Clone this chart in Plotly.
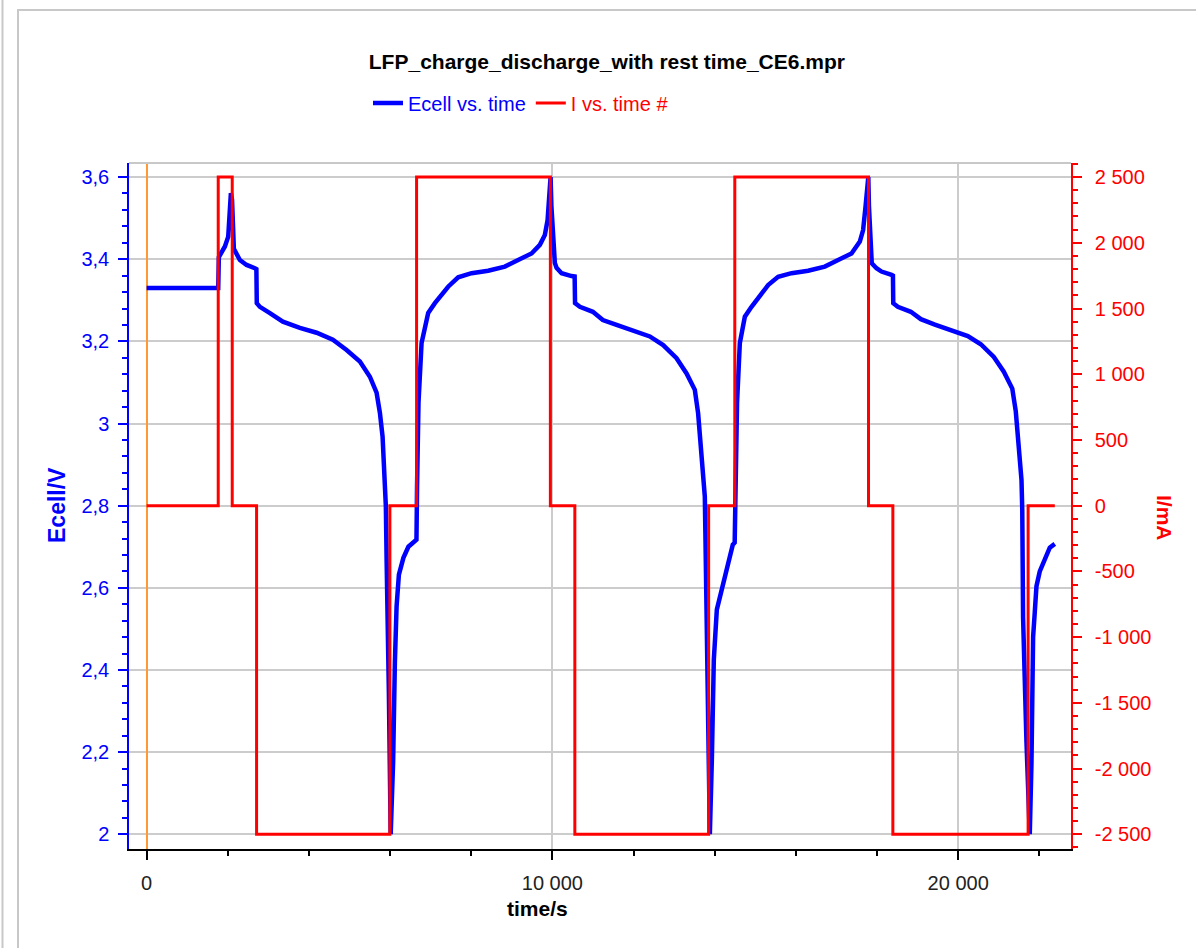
import plotly.graph_objects as go

# Cell potential vs. time (s, V)
time_ecell = [
    0, 1765, 1780, 1929, 2011, 2053, 2077, 2105, 2150, 2299, 2464, 2668, 2705,
    2715, 2792, 3038, 3358, 3777, 4189, 4590, 4928, 5256, 5502, 5667, 5749,
    5815, 5854, 5896, 5914, 5933, 5970, 6015,
    6075, 6118, 6160, 6217, 6328, 6451, 6611, 6650,
    6665, 6700, 6776, 6857, 6939, 7104, 7269, 7431, 7678, 8008, 8417, 8829,
    9156, 9486, 9691, 9814, 9881, 9913, 9955,
    9975, 10030, 10060, 10102, 10226, 10472, 10548,
    10558, 10677, 10997, 11243, 11581, 12074, 12401, 12729, 13059, 13306,
    13510, 13591, 13651, 13715, 13756, 13770, 13793, 13830, 13880,
    13929, 13978, 14052, 14175, 14298, 14446, 14492,
    14510, 14550, 14619, 14742, 14907, 15070, 15316, 15563, 15893, 16302,
    16713, 17041, 17371, 17576, 17657, 17716, 17785,
    17800, 17850, 17870, 17987, 18110, 18357, 18392,
    18400, 18512, 18833, 19080, 19425, 19918, 20237, 20558, 20878, 21124,
    21333, 21419, 21481, 21530, 21560, 21579, 21599, 21683, 21764,
    21806, 21846, 21887, 21929, 22010, 22093, 22175, 22257, 22380,
]
ecell = [
    3.330, 3.330, 3.405, 3.431, 3.455, 3.504, 3.561, 3.545, 3.425, 3.398, 3.386, 3.378, 3.376,
    3.293, 3.284, 3.269, 3.248, 3.233, 3.221, 3.204, 3.179, 3.151, 3.114, 3.075, 3.026,
    2.968, 2.880, 2.798, 2.669, 2.576, 2.345, 2.000,
    2.177, 2.418, 2.555, 2.632, 2.673, 2.700, 2.715, 2.717,
    2.850, 3.050, 3.196, 3.236, 3.269, 3.293, 3.313, 3.333, 3.356, 3.366, 3.372, 3.382,
    3.398, 3.414, 3.435, 3.459, 3.495, 3.552, 3.600,
    3.530, 3.420, 3.391, 3.379, 3.366, 3.359, 3.358,
    3.293, 3.284, 3.272, 3.252, 3.240, 3.223, 3.212, 3.191, 3.159, 3.122,
    3.082, 3.025, 2.960, 2.896, 2.822, 2.734, 2.600, 2.350, 2.000,
    2.180, 2.425, 2.547, 2.596, 2.644, 2.705, 2.710,
    2.850, 3.050, 3.196, 3.260, 3.284, 3.305, 3.337, 3.357, 3.366, 3.372,
    3.382, 3.398, 3.414, 3.443, 3.471, 3.528, 3.600,
    3.530, 3.420, 3.390, 3.378, 3.370, 3.362, 3.360,
    3.293, 3.284, 3.272, 3.254, 3.241, 3.225, 3.213, 3.193, 3.162, 3.126,
    3.085, 3.030, 2.965, 2.900, 2.863, 2.790, 2.528, 2.224, 2.000,
    2.175, 2.480, 2.540, 2.604, 2.640, 2.661, 2.681, 2.698, 2.707,
]

# Applied current steps (s, mA): each value holds until the next time
time_current = [0, 1765, 2110, 2710, 5995, 6653, 9950, 10553, 13850, 14495,
                17790, 18390, 21723, 22381]
current = [0, 2500, 0, -2500, 0, 2500, 0, -2500, 0, 2500, 0, -2500, 0, 0]

# Axis ticks
ecell_ticks = [2.0, 2.2, 2.4, 2.6, 2.8, 3.0, 3.2, 3.4, 3.6]
current_ticks = [-2500, -2000, -1500, -1000, -500, 0, 500, 1000, 1500, 2000, 2500]
time_ticks = [0, 10000, 20000]


def fmt(v, decimals=0):
    s = f"{v:,.{decimals}f}".replace(",", " ").replace(".", ",")
    if decimals:
        s = s.rstrip("0").rstrip(",")
    return s


BLUE = "#0000FF"
RED = "#FF0000"
FONT = "Liberation Sans"

fig = go.Figure()
fig.add_trace(go.Scatter(
    x=time_ecell, y=ecell, mode="lines",
    name=f"<span style='color:{BLUE}'>Ecell vs. time</span>",
    line=dict(color=BLUE, width=4.5), yaxis="y",
))
fig.add_trace(go.Scatter(
    x=time_current, y=current, mode="lines",
    name=f"<span style='color:{RED}'>I vs. time #</span>",
    line=dict(color=RED, width=3, shape="hv"), yaxis="y2",
))

W, H = 1196, 948
L, R, T, B = 129, 125, 163, 99
pw, ph = W - L - R, H - T - B


def px(xp):
    return (xp - L) / pw


def py(yp):
    return (H - B - yp) / ph


fig.update_layout(
    width=W, height=H,
    margin=dict(l=L, r=R, t=T, b=B, pad=0),
    paper_bgcolor="white", plot_bgcolor="white",
    font=dict(family=FONT, size=20, color="#222222"),
    title=dict(
        text="<b>LFP_charge_discharge_with rest time_CE6.mpr</b>",
        x=px(607), xanchor="center", y=1 - 62 / H, yanchor="middle",
        font=dict(family=FONT, size=21, color="#000000"),
    ),
    showlegend=True,
    legend=dict(
        orientation="h", x=px(368), xanchor="left", y=py(103), yanchor="middle",
        font=dict(family=FONT, size=20), itemwidth=30,
        bgcolor="rgba(0,0,0,0)", tracegroupgap=0,
    ),
    xaxis=dict(
        range=[-434, 22780], tickvals=time_ticks,
        ticktext=[fmt(v) for v in time_ticks],
        showline=True, linecolor="#000000", linewidth=2,
        ticks="outside", ticklen=9, tickwidth=2, tickcolor="#000000",
        tickfont=dict(family=FONT, size=20, color="#222222"),
        minor=dict(dtick=2000, tick0=0, ticks="outside", ticklen=5,
                   tickwidth=1.5, tickcolor="#000000", showgrid=False),
        showgrid=True, gridcolor="#CCCCCC", gridwidth=2,
        zeroline=True, zerolinecolor="#FF9933", zerolinewidth=1.5,
        ticklabelstandoff=6,
    ),
    yaxis=dict(
        range=[1.9642, 3.6342], tickvals=ecell_ticks,
        ticktext=[fmt(v, 1) for v in ecell_ticks],
        showline=True, linecolor=BLUE, linewidth=1.5,
        ticks="outside", ticklen=9, tickwidth=1.5, tickcolor=BLUE,
        tickfont=dict(family=FONT, size=20, color=BLUE),
        minor=dict(dtick=0.04, tick0=2.0, ticks="outside", ticklen=5,
                   tickwidth=1.5, tickcolor=BLUE, showgrid=False),
        showgrid=True, gridcolor="#CCCCCC", gridwidth=2, zeroline=False,
        ticklabelstandoff=5,
    ),
    yaxis2=dict(
        range=[-2611.9, 2606.9], overlaying="y", side="right",
        tickvals=current_ticks, ticktext=[fmt(v) for v in current_ticks],
        showline=True, linecolor=RED, linewidth=1.5,
        ticks="outside", ticklen=9, tickwidth=1.5, tickcolor=RED,
        tickfont=dict(family=FONT, size=20, color=RED),
        minor=dict(dtick=100, tick0=0, ticks="outside", ticklen=5,
                   tickwidth=1.5, tickcolor=RED, showgrid=False),
        showgrid=False, zeroline=False, ticklabelstandoff=9,
    ),
    annotations=[
        dict(text="<b>Ecell/V</b>", xref="paper", yref="paper",
             x=px(57), y=py(505), xanchor="center", yanchor="middle",
             textangle=-90, showarrow=False,
             font=dict(family=FONT, size=23, color=BLUE)),
        dict(text="<b>I/mA</b>", xref="paper", yref="paper",
             x=px(1165), y=py(518), xanchor="center", yanchor="middle",
             textangle=90, showarrow=False,
             font=dict(family=FONT, size=21, color=RED)),
        dict(text="<b>time/s</b>", xref="paper", yref="paper",
             x=px(537), y=py(908), xanchor="center", yanchor="middle",
             showarrow=False,
             font=dict(family=FONT, size=21, color="#000000")),
    ],
    shapes=[
        # top border of the plot area
        dict(type="line", xref="paper", yref="paper", x0=0, x1=1, y0=1, y1=1,
             line=dict(color="#C8C8C8", width=2)),
        # outer frame
        dict(type="rect", xref="paper", yref="paper",
             x0=px(18), x1=px(1250), y0=py(1000), y1=py(10),
             line=dict(color="#C8C8C8", width=2), layer="below"),
        dict(type="line", xref="paper", yref="paper",
             x0=px(2.5), x1=px(2.5), y0=py(1000), y1=py(-10),
             line=dict(color="#C8C8C8", width=2)),
    ],
)

fig.write_html("out.html")
